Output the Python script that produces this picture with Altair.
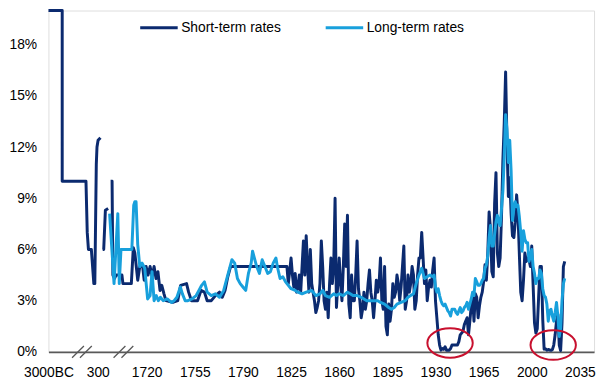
import altair as alt
import pandas as pd

DARK = "#0B2A6F"
LIGHT = "#18A0DC"
GRAY = "#595959"
RED = "#C8102E"
FONT = "Liberation Sans"

TICK_YEARS = [-3000, 300, 1720, 1755, 1790, 1825, 1860, 1895, 1930, 1965, 2000, 2035]
TICK_LABELS = ["3000BC", "300", "1720", "1755", "1790", "1825", "1860", "1895",
               "1930", "1965", "2000", "2035"]
Y_TICKS = [0, 3, 6, 9, 12, 15, 18]

# Short-term rates: three separate stretches
SHORT_A_YEARS = [-3000, -2080, -2080, -490, -405, -325, -130, 36, 102, 201, 247, 312, 407]
SHORT_A_VALS = [20.0, 20.0, 10.0, 10.0, 7.0, 6.0, 6.0, 4.0, 4.0, 11.0, 12.0, 12.4, 12.55]

SHORT_B_YEARS = [498, 538, 605, 716]
SHORT_B_VALS = [6.0, 6.0, 8.3, 8.4]

SHORT_C_YEARS = [
    815, 874, 906, 973, 1033, 1270, 1310, 1647,
    1710.3, 1711.4, 1713.5, 1715, 1717.1, 1718.2, 1719.6, 1721, 1722.5, 1724, 1725.4,
    1726.8, 1728.2, 1729.7, 1731, 1732.6, 1734, 1739, 1742.6, 1744.7, 1749, 1750.5,
    1752.6, 1757, 1759.5, 1762, 1764, 1767, 1770, 1773, 1775, 1777, 1779, 1781,
    1822, 1823,
    1825, 1826, 1827, 1828, 1829, 1830, 1831, 1832, 1833, 1834, 1835, 1836, 1837, 1838,
    1839, 1840, 1841, 1842, 1843, 1844, 1845, 1846, 1847, 1848, 1849, 1850, 1851, 1852,
    1853, 1854, 1855, 1856, 1857, 1858, 1859, 1860, 1861, 1862, 1863, 1864, 1865, 1866,
    1867, 1868, 1869, 1870, 1871, 1872, 1873, 1874, 1875, 1876, 1877, 1878, 1879, 1880,
    1881, 1882, 1883, 1884, 1885, 1886, 1887, 1888, 1889, 1890, 1891, 1892, 1893, 1894,
    1895, 1896, 1897, 1898, 1899, 1900, 1901, 1902, 1903, 1904, 1905, 1906, 1907, 1908,
    1909, 1910, 1911, 1912, 1913, 1914, 1915, 1916, 1917, 1918, 1919, 1920, 1921, 1922,
    1923, 1924, 1925, 1926, 1927, 1928, 1929, 1930, 1931, 1932, 1933, 1934, 1935, 1936,
    1937, 1938, 1939, 1940, 1941, 1942, 1944, 1946, 1947, 1948, 1949, 1950, 1951, 1952,
    1953, 1954, 1955, 1956, 1957, 1958, 1959, 1960, 1961, 1962, 1963, 1964, 1965, 1966,
    1967, 1968, 1969, 1970, 1971, 1972, 1973, 1974, 1975, 1976, 1977, 1978, 1979, 1980,
    1981, 1982, 1983, 1984, 1985, 1986, 1987, 1988, 1989, 1990, 1991, 1992, 1993, 1994,
    1995, 1996, 1997, 1998, 1999, 2000, 2001, 2002, 2003, 2004, 2005, 2006, 2007, 2008,
    2009, 2010, 2011, 2012, 2013, 2014, 2015, 2016, 2017, 2018, 2019, 2020, 2021, 2022,
    2023, 2024]
SHORT_C_VALS = [
    10.0, 10.0, 4.5, 4.3, 4.5, 4.5, 4.0, 4.0,
    6.1, 5.8, 4.2, 5.0, 5.0, 4.2, 5.0, 4.5, 5.0, 4.4, 5.0,
    4.3, 4.7, 3.6, 3.9, 3.4, 3.0, 2.9, 3.0, 3.9, 4.0, 3.5,
    3.0, 3.0, 3.6, 3.5, 3.0, 3.0, 3.3, 3.5, 3.2, 3.6, 4.4, 5.0,
    5.0, 4.0,
    5.5, 4.5, 3.8, 4.6, 3.5, 3.8, 4.5, 3.5, 5.0, 6.5, 4.5, 6.8, 5.0, 3.5,
    6.0, 4.0, 3.5, 3.0, 2.3, 2.6, 3.0, 4.0, 6.5, 5.0, 3.0, 2.5, 3.5, 2.0,
    4.0, 5.5, 4.0, 5.0, 9.0, 2.6, 4.0, 5.5, 4.0, 3.0, 5.0, 7.5, 5.0, 8.0,
    2.8, 2.0, 4.5, 3.0, 3.0, 4.5, 6.5, 3.7, 3.0, 2.0, 2.5, 3.5, 2.5, 3.0,
    4.0, 4.8, 3.5, 3.0, 2.0, 3.0, 4.2, 3.5, 4.0, 5.5, 3.0, 2.5, 5.0, 1.5,
    1.0, 2.8, 1.8, 2.5, 4.0, 3.2, 3.5, 4.5, 4.0, 3.0, 3.8, 5.0, 6.2, 2.5,
    3.0, 4.5, 3.5, 4.0, 5.0, 4.5, 2.5, 3.0, 4.5, 5.5, 5.5, 7.0, 5.5, 4.0,
    4.8, 3.0, 3.8, 4.2, 3.8, 4.8, 5.5, 3.0, 2.0, 1.0, 0.4, 0.1, 0.2, 0.15,
    0.3, 0.1, 0.1, 0.1, 0.2, 0.4, 0.4, 0.4, 0.6, 1.0, 1.1, 1.2, 1.6, 1.8,
    2.0, 1.0, 1.8, 2.7, 3.2, 1.8, 3.4, 3.2, 2.0, 2.7, 3.2, 3.5, 4.1, 5.1,
    4.2, 5.7, 8.2, 7.2, 4.7, 4.4, 8.7, 10.5, 5.8, 5.0, 5.5, 7.9, 11.2, 13.4,
    16.4, 12.3, 9.1, 10.2, 8.1, 6.8, 6.7, 7.6, 9.2, 8.1, 5.7, 3.5, 3.0, 4.2,
    5.8, 5.3, 5.5, 5.4, 5.0, 6.2, 3.9, 1.7, 1.1, 1.35, 3.2, 5.0, 5.0, 1.9,
    0.16, 0.18, 0.1, 0.14, 0.11, 0.09, 0.13, 0.4, 1.0, 1.8, 2.2, 0.4, 0.08, 1.7,
    5.0, 5.3]

LONG_YEARS = [
    775, 953, 1104, 1163, 1231, 1667, 1710.6, 1711.4, 1712.3, 1713.5, 1715, 1716.7,
    1718.6, 1720.7, 1722.5, 1723.9, 1725.4, 1727, 1728.5, 1730, 1732, 1735, 1738, 1740,
    1742, 1744.5, 1746, 1748, 1750, 1753, 1756, 1758, 1760, 1762, 1764, 1767, 1770,
    1773, 1776, 1778, 1780, 1782, 1784, 1786, 1788, 1790, 1792, 1794, 1796, 1797, 1798,
    1800, 1802, 1804, 1806, 1808, 1810, 1812, 1814, 1815, 1817, 1819, 1821, 1823, 1825,
    1828, 1830, 1833, 1836, 1840, 1843, 1846, 1848, 1850, 1853, 1856, 1858, 1860, 1863,
    1866, 1868, 1870, 1873, 1876, 1878, 1880, 1883, 1886, 1888, 1890, 1893, 1896, 1898,
    1900, 1902, 1905, 1908, 1910, 1912, 1914, 1916, 1918, 1920, 1921, 1922, 1924, 1926,
    1928, 1929, 1930, 1931, 1932, 1933, 1934, 1935, 1936, 1937, 1938, 1939, 1940, 1941,
    1942, 1943, 1944, 1945, 1946, 1947, 1948, 1949, 1950, 1951, 1952, 1953, 1954, 1955,
    1956, 1957, 1958, 1959, 1960, 1961, 1962, 1963, 1964, 1965, 1966, 1967, 1968, 1969,
    1970, 1971, 1972, 1973, 1974, 1975, 1976, 1977, 1978, 1979, 1980, 1981, 1982, 1983,
    1984, 1985, 1986, 1987, 1988, 1989, 1990, 1991, 1992, 1993, 1994, 1995, 1996, 1997,
    1998, 1999, 2000, 2001, 2002, 2003, 2004, 2005, 2006, 2007, 2008, 2009, 2010, 2011,
    2012, 2013, 2014, 2015, 2016, 2017, 2018, 2019, 2020, 2021, 2022, 2023, 2024]
LONG_VALS = [
    8.1, 4.0, 8.1, 4.0, 6.0, 6.0, 8.6, 8.8, 8.8, 6.3, 5.0, 5.2,
    4.9, 3.1, 3.3, 4.7, 3.0, 3.3, 3.0, 3.2, 3.0, 3.1, 2.9, 3.0,
    3.2, 3.8, 3.4, 3.0, 3.0, 3.1, 3.3, 3.6, 3.9, 4.1, 3.5, 3.3, 3.4,
    3.2, 3.6, 4.2, 4.8, 5.4, 5.2, 4.3, 4.0, 3.8, 3.6, 4.6, 5.2, 5.9, 5.6,
    5.0, 4.6, 5.4, 5.0, 4.6, 4.7, 5.2, 5.5, 5.0, 4.3, 4.4, 4.1, 3.9, 3.7,
    3.6, 3.5, 3.4, 3.5, 3.6, 3.3, 3.4, 3.6, 3.3, 3.2, 3.4, 3.3, 3.4, 3.3,
    3.5, 3.4, 3.3, 3.3, 3.2, 3.1, 3.0, 3.0, 3.0, 3.0, 2.9, 2.8, 2.6, 2.5,
    2.6, 2.8, 2.9, 3.0, 3.2, 3.3, 3.4, 4.0, 4.5, 4.9, 4.6, 4.3, 4.4, 4.5,
    4.4, 4.5, 3.8, 3.5, 3.7, 3.3, 3.0, 2.8, 2.7, 2.8, 2.6, 2.4, 2.3, 2.1,
    2.5, 2.5, 2.5, 2.3, 2.2, 2.4, 2.6, 2.3, 2.4, 2.6, 2.7, 2.9, 2.5, 2.8,
    3.1, 3.5, 3.3, 4.3, 4.1, 3.9, 3.9, 4.0, 4.2, 4.3, 4.9, 5.1, 5.6, 6.7,
    7.4, 6.2, 6.2, 6.9, 7.6, 8.0, 7.6, 7.4, 8.4, 9.4, 11.4, 13.9, 13.0, 11.1,
    12.4, 10.6, 7.7, 8.4, 8.8, 8.5, 8.6, 7.9, 7.0, 5.9, 7.1, 6.6, 6.4, 6.4,
    5.3, 5.6, 6.0, 5.0, 4.6, 4.0, 4.3, 4.3, 4.8, 4.6, 3.7, 3.3, 3.2, 2.8,
    1.8, 2.4, 2.5, 2.1, 1.8, 2.3, 2.9, 2.1, 0.9, 1.4, 3.0, 4.0, 4.3]

BREAK_YEARS = [-760, 1330]
CIRCLE_YEARS = [1940.6, 2015.6]
CIRCLE_VALS = [0.52, 0.4]


def xpos(year):
    """Broken time axis: 3000BC..300, 300..1710 compressed, then linear."""
    if year <= 300:
        return (year + 3000) / 3300 * 50
    if year <= 1710:
        return 50 + (year - 300) / 1410 * 35.6
    return 85.6 + (year - 1710) * 1.394


rows = []
idx = 0
for series, seg, ys, vs in [
    ("Short-term rates", "a", SHORT_A_YEARS, SHORT_A_VALS),
    ("Short-term rates", "b", SHORT_B_YEARS, SHORT_B_VALS),
    ("Short-term rates", "c", SHORT_C_YEARS, SHORT_C_VALS),
    ("Long-term rates", "d", LONG_YEARS, LONG_VALS),
]:
    for y, v in zip(ys, vs):
        rows.append({"series": series, "seg": seg, "idx": idx, "year": y,
                     "pos": xpos(y), "value": v})
        idx += 1
df = pd.DataFrame(rows)

breaks_df = pd.DataFrame({"pos": [xpos(y) for y in BREAK_YEARS], "value": [0.0] * len(BREAK_YEARS)})
circles_df = pd.DataFrame({"pos": [xpos(y) for y in CIRCLE_YEARS], "value": CIRCLE_VALS})

tick_pos = [round(xpos(y), 3) for y in TICK_YEARS]
label_expr = ""
for p, lab in zip(tick_pos, TICK_LABELS):
    label_expr += f"abs(datum.value - {p}) < 0.5 ? '{lab}' : "
label_expr += "''"

x_enc = alt.X(
    "pos:Q",
    scale=alt.Scale(domain=[0, 553], nice=False, zero=False),
    axis=alt.Axis(values=tick_pos, labelExpr=label_expr, title=None, grid=False,
                  ticks=False, tickSize=0, domain=True, domainColor=GRAY, domainWidth=1.6,
                  labelFont=FONT, labelFontSize=14, labelColor="#000000", labelPadding=14,
                  labelFlush=False, labelOverlap=False, labelAlign="center"),
)
y_enc = alt.Y(
    "value:Q",
    scale=alt.Scale(domain=[0, 20], nice=False, zero=True),
    axis=alt.Axis(values=Y_TICKS, labelExpr="datum.value + '%'", title=None, grid=False,
                  ticks=False, tickSize=0, domain=False, labelFont=FONT, labelFontSize=14,
                  labelColor="#000000", labelPadding=12),
)

color_scale = alt.Scale(domain=["Short-term rates", "Long-term rates"], range=[DARK, LIGHT])
legend = alt.Legend(orient="none", legendX=91.5, legendY=-3.3, direction="horizontal",
                    title=None, symbolType="stroke", symbolSize=1444, symbolStrokeWidth=3,
                    labelFont=FONT, labelFontSize=14, labelColor="#000000", labelOffset=2,
                    columnPadding=38, padding=0, labelLimit=300)

base = alt.Chart(df)
short_line = base.transform_filter(alt.datum.series == "Short-term rates").mark_line(
    strokeWidth=3, strokeJoin="round").encode(
    x=x_enc, y=y_enc,
    color=alt.Color("series:N", scale=color_scale, legend=legend),
    detail="seg:N", order="idx:Q")
long_line = base.transform_filter(alt.datum.series == "Long-term rates").mark_line(
    strokeWidth=3, strokeJoin="round").encode(
    x=x_enc, y=y_enc,
    color=alt.Color("series:N", scale=color_scale, legend=legend),
    detail="seg:N", order="idx:Q")

break_shape = "M-1,0.6L0.2,-0.6M-0.2,0.6L1,-0.6"
breaks = alt.Chart(breaks_df).mark_point(
    shape=break_shape, size=400, filled=False, stroke=GRAY, strokeWidth=1.3, opacity=1
).encode(x="pos:Q", y="value:Q")

ellipse_shape = "M-1,0A1,0.65,0,1,1,1,0A1,0.65,0,1,1,-1,0Z"
circles = alt.Chart(circles_df).mark_point(
    shape=ellipse_shape, size=2116, filled=False, stroke=RED, strokeWidth=2, opacity=1
).encode(x="pos:Q", y="value:Q")

chart = alt.layer(short_line, long_line, breaks, circles).properties(
    width=553, height=346,
    padding={"left": 41, "top": 0, "right": 3, "bottom": 30},
    autosize=alt.AutoSizeParams(type="none"),
).configure_view(strokeWidth=0).configure(background="white")

chart.save("out.html", embed_options={"renderer": "svg", "actions": False})
